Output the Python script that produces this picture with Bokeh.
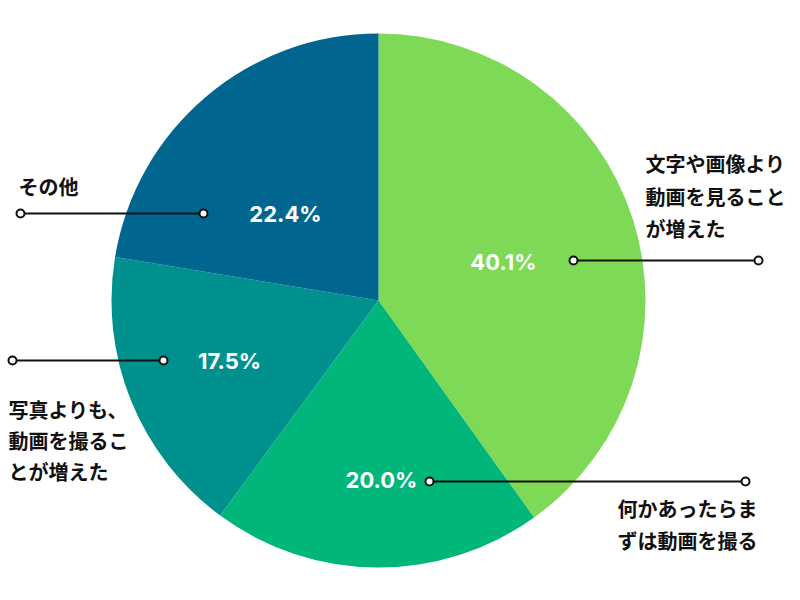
import math
from bokeh.plotting import figure
from bokeh.models import Range1d, ColumnDataSource
from bokeh.core.properties import value
from bokeh.embed import file_html
from bokeh.resources import INLINE

# ---- data ----
categories = ["文字や画像より\n動画を見ること\nが増えた",
              "何かあったらま\nずは動画を撮る",
              "写真よりも、\n動画を撮るこ\nとが増えた",
              "その他"]
shares = [40.1, 20.0, 17.5, 22.4]
colors = ["#7ED957", "#00B67A", "#00918F", "#00668F"]

# ---- layout (screen px, y measured from top) ----
W, H = 800, 600
cx, cy, R = 378, 300, 267
pct_pos = [(503, 261), (381, 479), (229, 360), (285, 213)]
line_pos = [((573, 260), (758, 260)), ((429, 481), (745, 481)),
            ((163, 360), (12, 360)), ((203, 213), (20, 213))]
cat_pos = [(645, 163), (617, 508), (8, 409), (18, 186)]
cat_step = [32.5, 32, 31, 32]

total = sum(shares)
starts, ends = [], []
acc = 0.0
for s in shares:
    starts.append(math.pi / 2 - 2 * math.pi * acc / total)
    acc += s
    ends.append(math.pi / 2 - 2 * math.pi * acc / total)

p = figure(width=W, height=H, x_range=Range1d(0, W), y_range=Range1d(0, H),
           output_backend="svg", toolbar_location=None, min_border=0)
p.axis.visible = False
p.grid.visible = False
p.outline_line_color = None
p.background_fill_color = "white"
p.border_fill_color = "white"

src = ColumnDataSource(dict(x=[cx] * 4, y=[H - cy] * 4, start=starts, end=ends, color=colors))
p.wedge(x="x", y="y", radius=R, radius_units="screen", start_angle="start", end_angle="end",
        direction="clock", fill_color="color", line_color=None, source=src)

# percentage labels
p.text(x=[q[0] for q in pct_pos], y=[H - q[1] for q in pct_pos],
       text=[f"{v:.1f}%" for v in shares], text_color="white",
       text_font=value("Inter"), text_font_style="bold", text_font_size="22px",
       text_align="center", text_baseline="middle")

# connector lines
xs = [[a[0], b[0]] for a, b in line_pos]
ys = [[H - a[1], H - b[1]] for a, b in line_pos]
p.multi_line(xs=xs, ys=ys, line_color="#111111", line_width=2)
ex = [pt[0] for pair in line_pos for pt in pair]
ey = [H - pt[1] for pair in line_pos for pt in pair]
p.scatter(x=ex, y=ey, size=8, marker="circle", fill_color="white",
          line_color="#111111", line_width=2)

# category labels, one text item per line
lx, ly, lt = [], [], []
for cat, (x0, y0), step in zip(categories, cat_pos, cat_step):
    for i, line in enumerate(cat.split("\n")):
        lx.append(x0)
        ly.append(H - (y0 + i * step))
        lt.append(line)
p.text(x=lx, y=ly, text=lt, text_color="#111111", text_font=value("Noto Sans CJK JP"),
       text_font_style="bold", text_font_size="20px", text_align="left",
       text_baseline="middle")

open("out.html", "w").write(file_html(p, INLINE))
